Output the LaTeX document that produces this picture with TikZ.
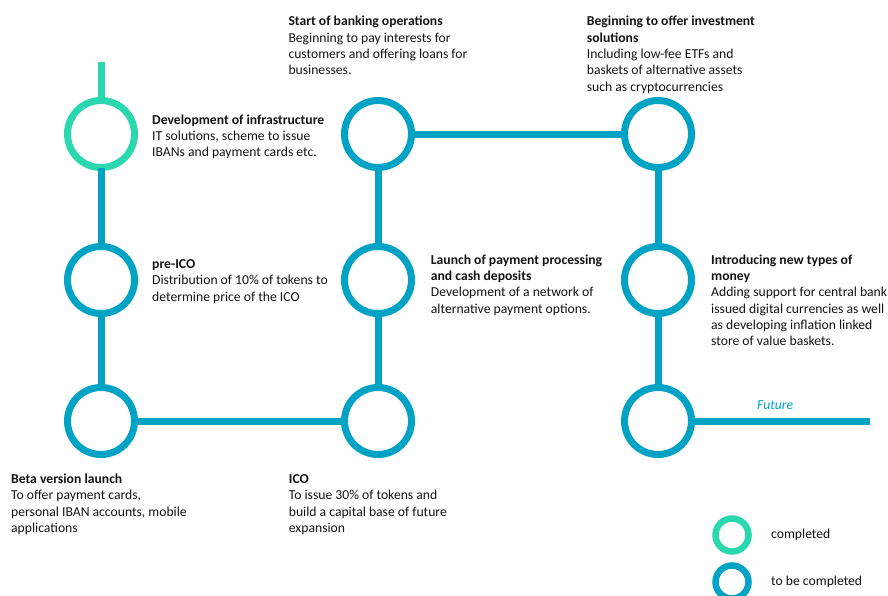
\documentclass[tikz,border=0pt]{standalone}
\usepackage{fontspec}
\setmainfont{Carlito}
\definecolor{done}{RGB}{42,215,174}
\definecolor{todo}{RGB}{0,163,196}
\definecolor{txt}{RGB}{20,20,20}
\newcommand{\firststrut}{\rule{0pt}{11pt}}
\begin{document}
\begin{tikzpicture}[x=1pt,y=-1pt,
  ring/.style={circle,draw=todo,line width=7pt,minimum size=67pt,inner sep=0pt,outer sep=0pt},
  donering/.style={ring,draw=done},
  legring/.style={circle,line width=6.5pt,minimum size=33pt,inner sep=0pt},
  link/.style={draw=todo,line width=7pt},
  desc/.style={anchor=north west,align=left,inner sep=0pt,text=txt,font=\fontsize{13.65}{16.3}\selectfont},
  futlabel/.style={anchor=north west,inner sep=0pt,text=todo,font=\fontsize{13.65}{16.3}\selectfont\itshape}]
\useasboundingbox (0,0) rectangle (888,595);
% rings
\node[donering] (a1) at (101,134) {};
\node[ring] (a2) at (101,280) {};
\node[ring] (a3) at (101,421) {};
\node[ring] (b1) at (378,134) {};
\node[ring] (b2) at (378,280) {};
\node[ring] (b3) at (378,421) {};
\node[ring] (c1) at (658,134) {};
\node[ring] (c2) at (658,280) {};
\node[ring] (c3) at (658,421) {};
\coordinate (start) at (101,62);
\coordinate (fut) at (870,421);
% links
\draw[link,draw=done] (start) -- (a1);
\draw[link] (a1) -- (a2);
\draw[link] (a2) -- (a3);
\draw[link] (a3) -- (b3);
\draw[link] (b3) -- (b2);
\draw[link] (b2) -- (b1);
\draw[link] (b1) -- (c1);
\draw[link] (c1) -- (c2);
\draw[link] (c2) -- (c3);
\draw[link] (c3) -- (fut);
% texts (top = first baseline - 11)
\node[desc] (ta1) at (152,113) {\firststrut\textbf{Development of infrastructure}\\IT solutions, scheme to issue\\IBANs and payment cards etc.};
\node[desc] (ta2) at (152,257.3) {\firststrut\textbf{pre-ICO}\\Distribution of 10\% of tokens to\\determine price of the ICO};
\node[desc] (ta3) at (11,472.3) {\firststrut\textbf{Beta version launch}\\To offer payment cards,\\personal IBAN accounts, mobile\\applications};
\node[desc] (tb1) at (288.3,14.7) {\firststrut\textbf{Start of banking operations}\\Beginning to pay interests for\\customers and offering loans for\\businesses.};
\node[desc] (tb2) at (430.7,253) {\firststrut\textbf{Launch of payment processing}\\\textbf{and cash deposits}\\Development of a network of\\alternative payment options.};
\node[desc] (tb3) at (288.7,472.3) {\firststrut\textbf{ICO}\\To issue 30\% of tokens and\\build a capital base of future\\expansion};
\node[desc] (tc1) at (586.7,14.7) {\firststrut\textbf{Beginning to offer investment}\\\textbf{solutions}\\Including low-fee ETFs and\\baskets of alternative assets\\such as cryptocurrencies};
\node[desc] (tc2) at (711,253) {\firststrut\textbf{Introducing new types of}\\\textbf{money}\\Adding support for central bank\\issued digital currencies as well\\as developing inflation linked\\store of value baskets.};
\node[futlabel] (tf) at (757,398) {\firststrut Future};
% legend
\node[legring,draw=done] (l1) at (732,535) {};
\node[legring,draw=todo] (l2) at (732,582) {};
\node[desc] (tl1) at (771,527.3) {\firststrut completed};
\node[desc] (tl2) at (771,574) {\firststrut to be completed};
\end{tikzpicture}
\end{document}
